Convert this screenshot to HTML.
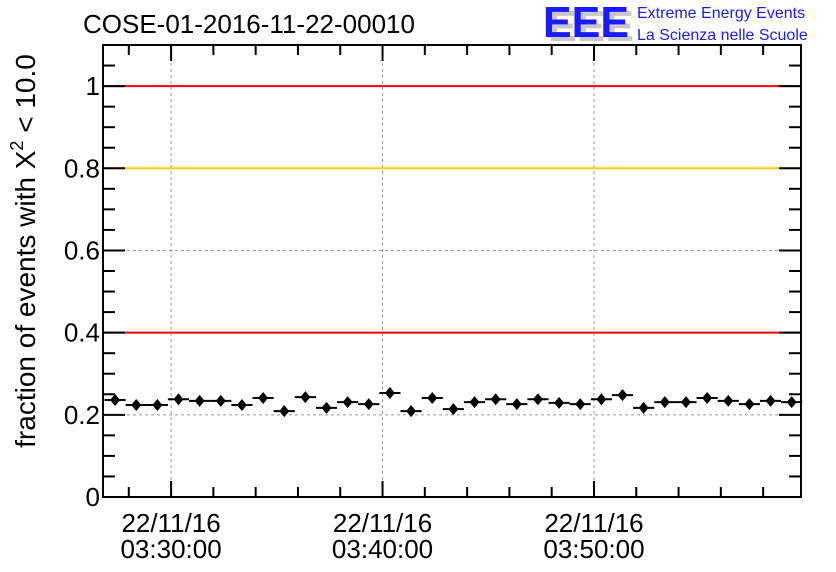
<!DOCTYPE html>
<html><head><meta charset="utf-8"><style>
body{margin:0;background:#fff}
svg{display:block;font-family:"Liberation Sans",sans-serif}
</style></head><body>
<svg id="c" width="836" height="572">
<text x="83" y="33" font-size="26">COSE-01-2016-11-22-00010</text>
<g>
<text x="548" y="41" font-size="44" font-weight="bold" fill="#c8c8c8" textLength="86" lengthAdjust="spacingAndGlyphs">EEE</text>
<text x="543" y="37" font-size="44" font-weight="bold" fill="#1a1aff" textLength="86" lengthAdjust="spacingAndGlyphs">EEE</text>
<text x="637" y="18" font-size="16" fill="#1a1aff">Extreme Energy Events</text>
<text x="637" y="40" font-size="16" fill="#1a1aff">La Scienza nelle Scuole</text>
</g>
<text transform="translate(35,251) rotate(-90)" text-anchor="middle" font-size="28">fraction of events with Χ<tspan dy="-12" font-size="18">2</tspan><tspan dy="12"> &lt; 10.0</tspan></text>
<g id="grid"></g><g id="lines"></g><g id="marks"></g><g id="axes"></g>
</svg>
<script>
const times=[27.35,28.35,29.35,30.35,31.35,32.35,33.35,34.35,35.35,36.35,37.35,38.35,39.35,40.35,41.35,42.35,43.35,44.35,45.35,46.35,47.35,48.35,49.35,50.35,51.35,52.35,53.35,54.35,55.35,56.35,57.35,58.35,59.35];
const values=[0.236,0.224,0.224,0.238,0.234,0.234,0.224,0.241,0.209,0.243,0.217,0.231,0.226,0.253,0.209,0.241,0.214,0.231,0.238,0.226,0.238,0.229,0.226,0.238,0.248,0.217,0.231,0.231,0.241,0.234,0.226,0.234,0.231];
const yTicks=[0,0.2,0.4,0.6,0.8,1];
const yTickLabels=["0","0.2","0.4","0.6","0.8","1"];
const xMajor=[30,40,50];
const xDateLabels=["22/11/16","22/11/16","22/11/16"];
const xTimeLabels=["03:30:00","03:40:00","03:50:00"];
const refLines=[1,0.8,0.4];
const refColors=["#ff0000","#ffcc00","#ff0000"];
const binWidth=1;
const L=103,R=801,T=45,B=497,xmin=26.78,xmax=59.79,ymin=0,ymax=1.1;
const X=t=>L+(t-xmin)/(xmax-xmin)*(R-L);
const Y=v=>B-(v-ymin)/(ymax-ymin)*(B-T);
const NS="http://www.w3.org/2000/svg";
function mk(p,tag,a){const e=document.createElementNS(NS,tag);for(const k in a)e.setAttribute(k,a[k]);p.appendChild(e);return e;}
const grid=document.getElementById('grid'),lines=document.getElementById('lines'),marks=document.getElementById('marks'),axes=document.getElementById('axes');
yTicks.forEach(v=>{if(v>0){const g=mk(grid,'line',{x1:L,x2:R,y1:Y(v),y2:Y(v),stroke:'#999','stroke-dasharray':'3,3'});

}});
xMajor.forEach(t=>{const g=mk(grid,'line',{x1:X(t),x2:X(t),y1:T,y2:B,stroke:'#999','stroke-dasharray':'3,3'});

});
refLines.forEach((v,i)=>{const l=mk(lines,'line',{x1:L,x2:R,y1:Y(v),y2:Y(v),stroke:refColors[i],'stroke-width':2});

});
times.forEach((t,i)=>{const v=values[i],cx=X(t),cy=Y(v);
const g=mk(marks,'g',{});


mk(g,'line',{x1:X(t-binWidth/2),x2:X(t+binWidth/2),y1:cy,y2:cy,stroke:'#000','stroke-width':2});
mk(g,'polygon',{points:`${cx},${cy-6} ${cx+5},${cy} ${cx},${cy+6} ${cx-5},${cy}`,fill:'#000'});});
const fr=mk(axes,'rect',{x:L,y:T,width:R-L,height:B-T,fill:'none',stroke:'#000','stroke-width':2});


for(let v=0;v<=1.1001;v+=0.05){const major=Math.abs(v/0.2-Math.round(v/0.2))<1e-6;const len=major?22:12;
mk(axes,'line',{x1:L,x2:L+len,y1:Y(v),y2:Y(v),stroke:'#000','stroke-width':2});
mk(axes,'line',{x1:R,x2:R-len,y1:Y(v),y2:Y(v),stroke:'#000','stroke-width':2});}
for(let t=28;t<=58;t+=2){const major=t%10==0;const len=major?16:10;
mk(axes,'line',{x1:X(t),x2:X(t),y1:B,y2:B-len,stroke:'#000','stroke-width':2});
mk(axes,'line',{x1:X(t),x2:X(t),y1:T,y2:T+len,stroke:'#000','stroke-width':2});}
yTicks.forEach((v,i)=>{const tx=mk(axes,'text',{x:L-3,y:Y(v)+9,'text-anchor':'end','font-size':26});tx.textContent=yTickLabels[i];

});
xMajor.forEach((t,i)=>{const a=mk(axes,'text',{x:X(t),y:532,'text-anchor':'middle','font-size':26});a.textContent=xDateLabels[i];


const b=mk(axes,'text',{x:X(t),y:558,'text-anchor':'middle','font-size':26});b.textContent=xTimeLabels[i];

});
</script>
</body></html>
